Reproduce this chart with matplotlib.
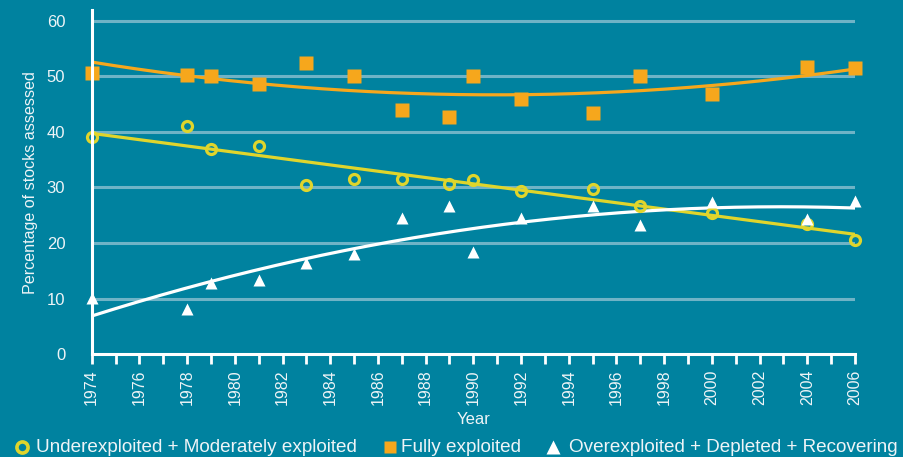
import numpy as np
import matplotlib
matplotlib.use("Agg")
import matplotlib.pyplot as plt
from matplotlib.lines import Line2D

plt.rcParams['font.family'] = ['Liberation Sans', 'DejaVu Sans']

# Share of assessed stocks by exploitation status (%)
under_years = [1974, 1978, 1979, 1981, 1983, 1985, 1987, 1989, 1990, 1992, 1995, 1997, 2000, 2004, 2006]
under_vals = [39.1, 41.1, 37.0, 37.5, 30.4, 31.5, 31.5, 30.6, 31.4, 29.4, 29.8, 26.7, 25.4, 23.4, 20.6]

fully_years = [1974, 1978, 1979, 1981, 1983, 1985, 1987, 1989, 1990, 1992, 1995, 1997, 2000, 2004, 2006]
fully_vals = [50.5, 50.3, 50.0, 48.6, 52.4, 50.1, 43.9, 42.6, 50.0, 45.9, 43.3, 50.0, 46.8, 51.6, 51.4]

over_years = [1974, 1978, 1979, 1981, 1983, 1985, 1987, 1989, 1990, 1992, 1995, 1997, 2000, 2004, 2006]
over_vals = [10.1, 8.1, 12.9, 13.4, 16.4, 18.1, 24.5, 26.6, 18.4, 24.5, 26.7, 23.3, 27.3, 24.3, 27.6]

legend_labels = ["Underexploited + Moderately exploited", "Fully exploited",
                 "Overexploited + Depleted + Recovering"]

BG = '#00829f'
GRID = '#6fb3c6'
ORANGE = '#f6a71c'
YELLOW = '#dfd52c'
WHITE = '#ffffff'
TXT = '#eef4f7'

fig = plt.figure(figsize=(9.04, 4.57), dpi=100, facecolor=BG)
ax = fig.add_axes([0.1014, 0.2247, 0.8444, 0.7534], facecolor=BG)

ax.set_xlim(1974, 2006)
ax.set_ylim(0, 61.9)

# horizontal gridlines
for v in range(10, 61, 10):
    ax.axhline(v, color=GRID, lw=2.2, zorder=1)

# trend curves fitted to each series
xs = np.linspace(1974, 2006, 300)
def trend(years, vals, deg):
    c = np.polyfit(np.array(years) - 1974, vals, deg)
    return np.polyval(c, xs - 1974)

ax.plot(xs, trend(fully_years, fully_vals, 2), color=ORANGE, lw=2.3, zorder=3)
ax.plot(xs, trend(under_years, under_vals, 1), color=YELLOW, lw=2.3, zorder=3)
ax.plot(xs, trend(over_years, over_vals, 2), color=WHITE, lw=2.3, zorder=3)

ax.plot(fully_years, fully_vals, 's', color=ORANGE, ms=9.5, mec='none', zorder=4, clip_on=False)
ax.plot(under_years, under_vals, 'o', mfc='none', mec=YELLOW, ms=7.2, mew=2.3, zorder=4, clip_on=False)
ax.plot(over_years, over_vals, '^', color=WHITE, ms=9, mec='none', zorder=4, clip_on=False)

# axes styling
for s in ['top', 'right']:
    ax.spines[s].set_visible(False)
for s in ['left', 'bottom']:
    ax.spines[s].set_color(WHITE)
    ax.spines[s].set_linewidth(2.2)
    ax.spines[s].set_zorder(5)

ax.set_xticks(range(1974, 2007, 2))
ax.set_xticks(range(1974, 2007, 1), minor=True)
ax.set_xticklabels([str(y) for y in range(1974, 2007, 2)], rotation=90, fontsize=11.5, color=TXT)
ax.tick_params(axis='x', which='both', direction='out', length=7, width=2, color=WHITE, pad=4)
ax.set_yticks(range(0, 61, 10))
ax.set_yticklabels([str(v) for v in range(0, 61, 10)], fontsize=12, color=TXT)
ax.tick_params(axis='y', length=0, pad=19)

ax.set_ylabel("Percentage of stocks assessed", fontsize=11.6, color=TXT, labelpad=6)
ax.set_xlabel("Year", fontsize=12, color=TXT, labelpad=5)

# legend row along the bottom
ly = 1 - 446.5 / 457
base = 1 - 452.5 / 457
fig.add_artist(Line2D([22.5 / 904], [ly], marker='o', mfc='none', mec=YELLOW, ms=8, mew=2.6,
                      transform=fig.transFigure))
fig.text(36 / 904, base, legend_labels[0], fontsize=13.6, color=TXT, va='baseline', ha='left')
fig.add_artist(Line2D([390 / 904], [ly], marker='s', color=ORANGE, mec='none', ms=9,
                      transform=fig.transFigure))
fig.text(401.5 / 904, base, legend_labels[1], fontsize=13.6, color=TXT, va='baseline', ha='left')
fig.add_artist(Line2D([553.5 / 904], [ly], marker='^', color=WHITE, mec='none', ms=10,
                      transform=fig.transFigure))
fig.text(569 / 904, base, legend_labels[2], fontsize=13.6, color=TXT, va='baseline', ha='left')

fig.savefig("out.png", dpi=100, facecolor=BG)
